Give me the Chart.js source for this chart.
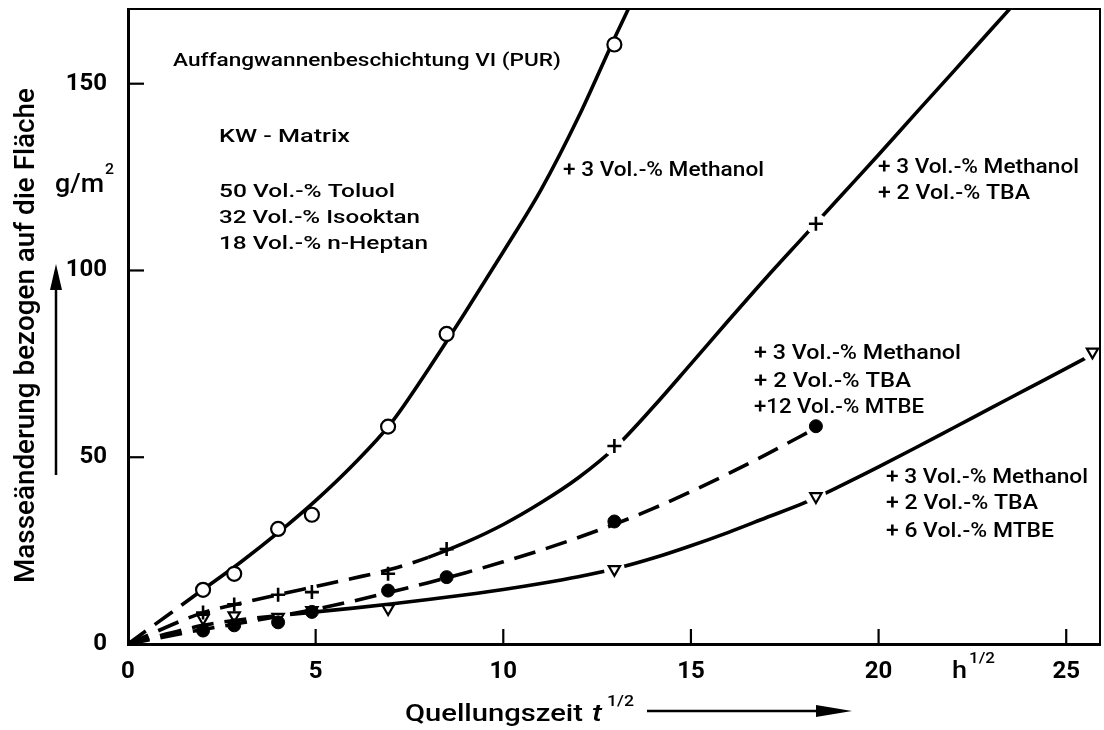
<!DOCTYPE html>
<html><head><meta charset="utf-8">
<script src="https://cdn.jsdelivr.net/npm/chart.js@4.4.1/dist/chart.umd.min.js"></script>
<style>html,body{margin:0;padding:0;background:#fff}#wrap{width:1104px;height:730px;position:relative}</style>
</head><body><div id="wrap"><canvas id="c" width="1104" height="730"></canvas></div>
<script>
// ---- data ----
const timesSqrtH = [2.0, 2.83, 4.0, 4.9, 6.93, 8.49, 12.96, 18.33, 25.7];
const methanol    = [14.5, 18.8, 30.8, 34.6, 58.2, 83.0, 160.5, null, null];
const methanolTBA = [8.4, 10.6, 13.2, 13.9, 18.8, 25.4, 53.0, 112.5, null];
const mtbe12      = [3.6, 5.0, 5.8, 8.6, 14.3, 17.9, 32.8, 58.3, null];
const mtbe6       = [6.9, 7.6, 7.2, 9.0, 9.5, null, 20.0, 39.5, 78.2];

// fitted curves as drawn in the figure
const curveMethanolX = [0, 2, 3, 4, 5, 6, 7, 8, 9, 10, 11, 12, 13, 13.45];
const curveMethanolY = [0, 14.6, 21.9, 29.8, 38.4, 48.0, 59.0, 73.5, 89.0, 105.0, 121.5, 141.0, 163.0, 172.5];
const curveTBAX = [0, 2, 3, 4, 5, 6, 7, 8, 9, 10, 11, 12, 13, 14, 15, 16, 17, 18, 19, 20, 21, 22, 23, 23.7];
const curveTBAY = [0, 8.4, 10.9, 13.2, 15.4, 17.6, 20.0, 23.2, 27.2, 32.0, 37.8, 44.5, 52.8, 63.5, 75.0, 86.6, 98.0, 109.0, 120.0, 131.0, 142.2, 153.3, 164.5, 172.3];
const curveMTBE12X = [0, 2, 3, 4, 5, 6, 7, 8, 9, 10, 11, 12, 13, 14, 15, 16, 17, 18.33];
const curveMTBE12Y = [0, 3.9, 5.6, 7.4, 9.3, 11.5, 13.9, 16.4, 19.1, 22.0, 25.1, 28.5, 32.2, 36.3, 40.8, 45.6, 50.7, 57.8];
const curveMTBE6X = [0, 2, 3, 4, 5, 6, 7, 8, 9, 10, 11, 12, 13, 14, 15, 16, 17, 18, 19, 20, 21, 22, 23, 24, 25, 25.9];
const curveMTBE6Y = [0, 5.0, 6.5, 7.6, 8.6, 9.6, 10.7, 11.9, 13.2, 14.6, 16.2, 18.0, 20.2, 23.0, 26.3, 29.9, 33.8, 37.7, 42.4, 47.4, 52.6, 57.9, 63.2, 68.5, 73.8, 78.6];

const xTicks = [0, 5, 10, 15, 20, 25];
const yTicks = [0, 50, 100, 150];

// ---- helpers ----
const pts = (xs, ys) => xs.map((x, i) => ({x, y: ys[i]})).filter(p => p.y !== null);
const TXTFONT = 'Roboto, "Liberation Sans", sans-serif';
const DASH = [22, 11];
function curve(xs, ys, dashUntil) {
  return {
    type: 'line', data: pts(xs, ys), showLine: true, pointRadius: 0, pointHoverRadius: 0,
    borderColor: '#000', borderWidth: 3.6, fill: false,
    cubicInterpolationMode: 'monotone', borderCapStyle: 'butt',
    segment: { borderDash: ctx => (ctx.p1.parsed.x <= dashUntil + 1e-6 ? DASH : undefined) }
  };
}
function markers(ys, style) {
  return Object.assign({ type: 'scatter', data: pts(timesSqrtH, ys), showLine: false,
    borderColor: '#000', pointHoverRadius: 0 }, style);
}
function halo(ys) {
  return { type: 'scatter', data: pts(timesSqrtH, ys).filter(p => p.x > 10), showLine: false,
    pointStyle: 'circle', pointBackgroundColor: '#fff', pointBorderWidth: 0, pointBorderColor: '#fff',
    pointRadius: 10.5, pointHoverRadius: 0 };
}

function fitText(ctx, str, x, baseline, size, width, opts) {
  opts = opts || {};
  ctx.save();
  ctx.font = (opts.italic ? 'italic ' : '') + (opts.weight || '500') + ' ' + size + 'px ' + TXTFONT;
  const w = ctx.measureText(str).width;
  ctx.translate(x, baseline);
  if (opts.rotate) ctx.rotate(opts.rotate);
  if (width) ctx.scale(width / w, 1);
  ctx.textBaseline = 'alphabetic';
  ctx.textAlign = 'left';
  ctx.fillStyle = '#000';
  ctx.fillText(str, 0, 0);
  ctx.restore();
}
function arrow(ctx, x1, y1, x2, y2, head, half) {
  const ang = Math.atan2(y2 - y1, x2 - x1);
  ctx.save();
  ctx.strokeStyle = '#000'; ctx.fillStyle = '#000'; ctx.lineWidth = 2.5;
  ctx.beginPath(); ctx.moveTo(x1, y1);
  ctx.lineTo(x2 - Math.cos(ang) * head * 0.8, y2 - Math.sin(ang) * head * 0.8); ctx.stroke();
  ctx.translate(x2, y2); ctx.rotate(ang);
  ctx.beginPath(); ctx.moveTo(0, 0); ctx.lineTo(-head, -half); ctx.lineTo(-head, half); ctx.closePath(); ctx.fill();
  ctx.restore();
}
function noPad(s) { s.paddingTop = 0; s.paddingBottom = 0; s.paddingLeft = 0; s.paddingRight = 0; }

const decorPlugin = {
  id: 'decor',
  afterDraw(chart) {
    const ctx = chart.ctx, a = chart.chartArea;
    const xs = chart.scales.x, ys = chart.scales.y;
    ctx.save();
    ctx.strokeStyle = '#000';
    ctx.lineWidth = 2;
    ctx.beginPath(); ctx.moveTo(a.left, a.top); ctx.lineTo(a.right, a.top); ctx.lineTo(a.right, a.bottom); ctx.stroke();
    ctx.lineWidth = 2.2;
    xTicks.forEach(v => { if (v === 0) return; const px = xs.getPixelForValue(v);
      ctx.beginPath(); ctx.moveTo(px, a.bottom); ctx.lineTo(px, a.bottom - 15); ctx.stroke(); });
    yTicks.forEach(v => { if (v === 0) return; const py = ys.getPixelForValue(v);
      ctx.beginPath(); ctx.moveTo(a.left, py); ctx.lineTo(a.left + 16, py); ctx.stroke(); });
    ctx.restore();

    fitText(ctx, 'Auffangwannenbeschichtung VI (PUR)', 173, 66, 19, 388);
    fitText(ctx, 'KW - Matrix', 219, 142, 19, 131);
    fitText(ctx, '50 Vol.-% Toluol', 219, 197, 19, 176);
    fitText(ctx, '32 Vol.-% Isooktan', 219, 223, 19, 201);
    fitText(ctx, '18 Vol.-% n-Heptan', 219, 249, 19, 209);

    fitText(ctx, '+ 3 Vol.-% Methanol', 563, 176, 21, 201);
    fitText(ctx, '+ 3 Vol.-% Methanol', 878, 173, 21, 201);
    fitText(ctx, '+ 2 Vol.-% TBA', 878, 199, 21, 152);
    fitText(ctx, '+ 3 Vol.-% Methanol', 754, 359, 21, 207);
    fitText(ctx, '+ 2 Vol.-% TBA', 754, 387, 21, 157);
    fitText(ctx, '+12 Vol.-% MTBE', 754, 413, 21, 170);
    fitText(ctx, '+ 3 Vol.-% Methanol', 886, 483, 21, 202);
    fitText(ctx, '+ 2 Vol.-% TBA', 886, 509, 21, 152);
    fitText(ctx, '+ 6 Vol.-% MTBE', 886, 537, 21, 168);

    fitText(ctx, 'Masseänderung bezogen auf die Fläche', 34, 583, 27, 495, {rotate: -Math.PI / 2});
    fitText(ctx, 'g/m', 55, 192, 25, 49);
    fitText(ctx, '2', 105, 174, 15, 9);
    arrow(ctx, 56, 475, 56, 264, 26, 6);

    fitText(ctx, 'Quellungszeit', 405, 721, 24, 178);
    fitText(ctx, 't', 592, 721, 24, 10, {italic: true});
    fitText(ctx, '1/2', 607, 706, 15, 27);
    arrow(ctx, 647, 711, 852, 711, 36, 6);
    fitText(ctx, 'h', 952, 678, 24, 15);
    fitText(ctx, '1/2', 969, 663, 15, 26);
  }
};

new Chart(document.getElementById('c'), {
  data: {
    datasets: [
      markers(methanol, {pointStyle: 'circle', pointRadius: 7, pointBorderWidth: 2.2, pointBackgroundColor: '#fff'}),
      markers(methanolTBA, {pointStyle: 'cross', pointRadius: 7, pointBorderWidth: 2.6, pointBackgroundColor: '#000'}),
      markers(mtbe12, {pointStyle: 'circle', pointRadius: 6.5, pointBorderWidth: 1, pointBackgroundColor: '#000'}),
      markers(mtbe6, {pointStyle: 'triangle', pointRotation: 180, pointRadius: 6.5, pointBorderWidth: 2.2, pointBackgroundColor: '#fff'}),
      halo(methanolTBA),
      halo(mtbe6),
      curve(curveMethanolX, curveMethanolY, 2.0),
      curve(curveTBAX, curveTBAY, 8.0),
      curve(curveMTBE12X, curveMTBE12Y, 99),
      curve(curveMTBE6X, curveMTBE6Y, 5.0)
    ]
  },
  options: {
    responsive: false, animation: false,
    layout: { autoPadding: false, padding: { left: 0, top: 9, right: 4, bottom: 0 } },
    plugins: { legend: { display: false }, tooltip: { enabled: false } },
    scales: {
      x: {
        type: 'linear', min: 0, max: 25.9,
        afterBuildTicks: s => { s.ticks = xTicks.map(v => ({value: v})); },
        afterFit: s => { s.height = 86; noPad(s); },
        grid: { display: false },
        border: { display: true, color: '#000', width: 3 },
        ticks: { color: '#000', padding: 6, maxRotation: 0, autoSkip: false,
          font: { family: TXTFONT, size: 24, weight: 'bold' } }
      },
      y: {
        type: 'linear', min: 0, max: 170,
        afterBuildTicks: s => { s.ticks = yTicks.map(v => ({value: v})); },
        afterFit: s => { s.width = 128; noPad(s); },
        grid: { display: false },
        border: { display: true, color: '#000', width: 3 },
        ticks: { color: '#000', padding: 13, autoSkip: false,
          font: { family: TXTFONT, size: 24, weight: 'bold' } }
      }
    }
  },
  plugins: [decorPlugin]
});
</script></body></html>
